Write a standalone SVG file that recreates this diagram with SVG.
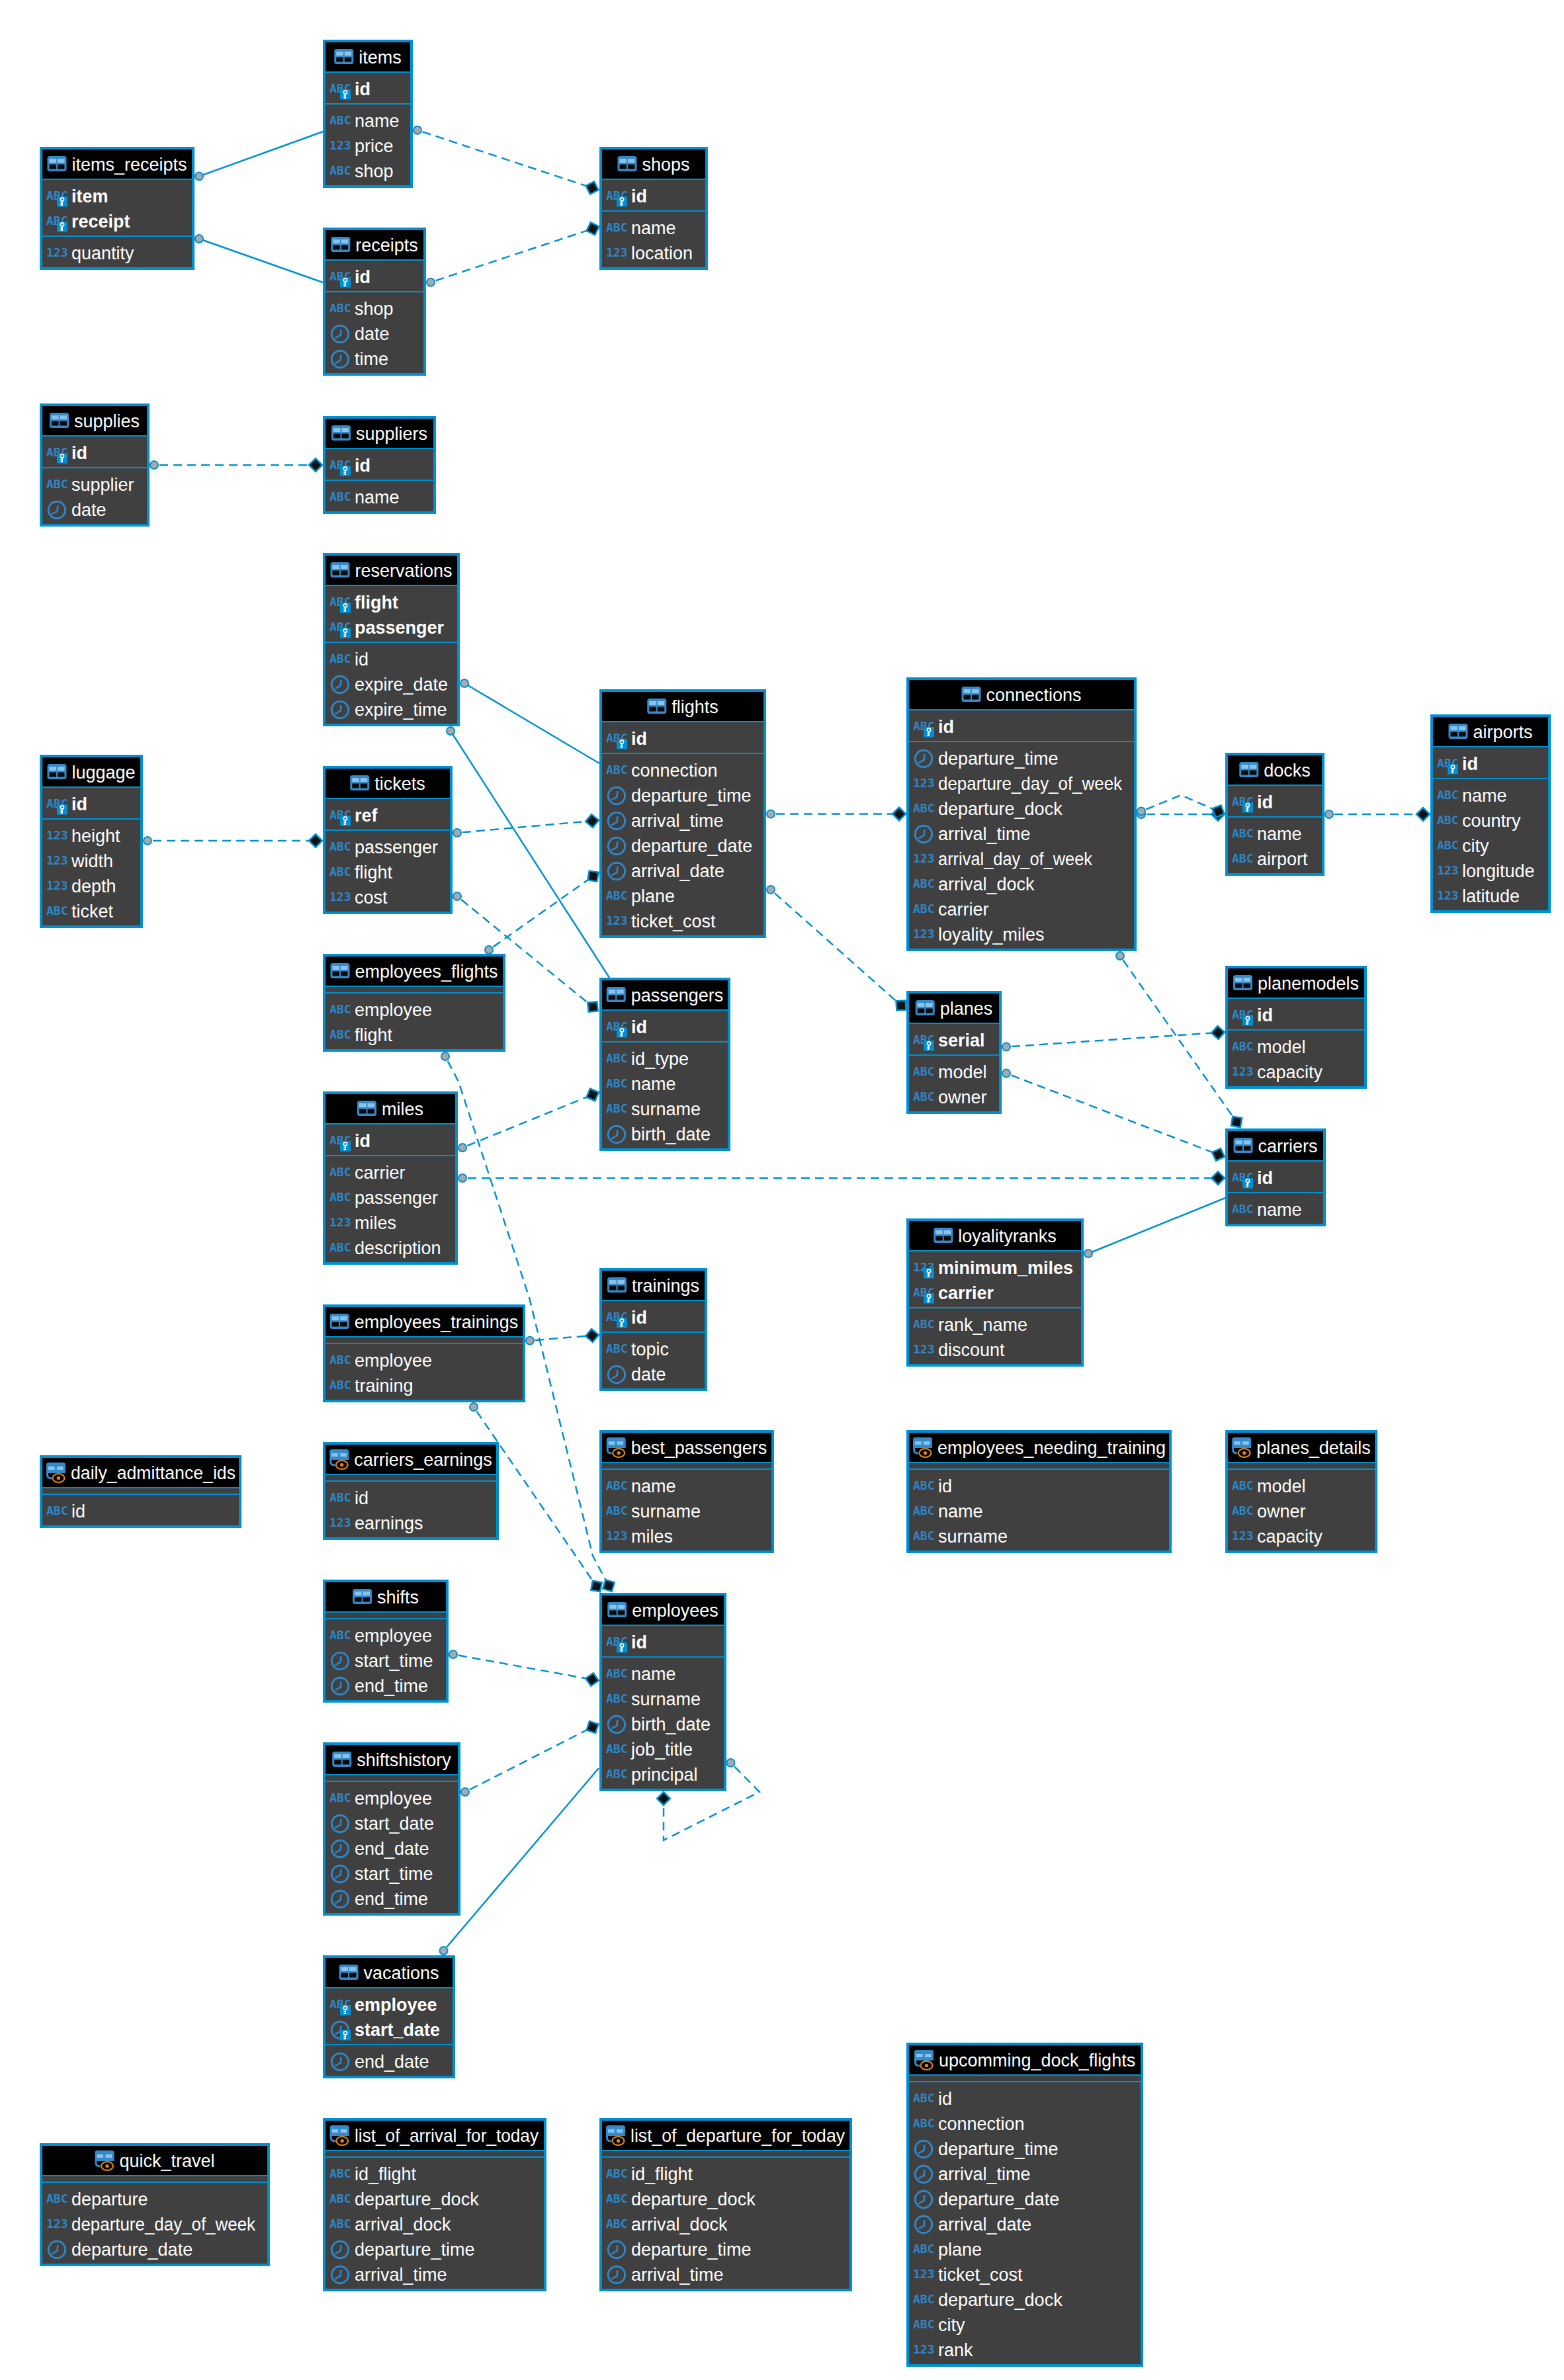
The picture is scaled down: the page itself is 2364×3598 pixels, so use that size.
<svg xmlns="http://www.w3.org/2000/svg" width="2364" height="3598" viewBox="0 0 2364 3598">
<style>
text{font-family:"Liberation Sans",Arial,sans-serif;font-size:27px;fill:#fff}
.t{font-size:27px}
.k{font-weight:700}
.a{font-family:"DejaVu Sans Mono",monospace;font-weight:700;font-size:18px;fill:#2e86c8}
.b{fill:#404040;stroke:#0090d2;stroke-width:4}
.h{fill:#000}
.l{fill:#0090d2}
.c{fill:none;stroke:#0090d2;stroke-width:2.5}
.d{stroke-dasharray:13 8;stroke-dashoffset:13;marker-start:url(#one);marker-end:url(#many)}
.s{marker-start:url(#one)}
</style>
<defs>
<marker id="one" markerUnits="userSpaceOnUse" viewBox="-14 -14 28 28" markerWidth="28" markerHeight="28" refX="0" refY="0"><circle r="6" fill="#a9a9a9" stroke="#0090d2" stroke-width="2"/></marker>
<marker id="many" markerUnits="userSpaceOnUse" viewBox="-14 -14 28 28" markerWidth="28" markerHeight="28" refX="0" refY="0" orient="auto"><path d="M-10,0L0,-10L10,0L0,10Z" fill="#111" stroke="#0090d2" stroke-width="2.5"/></marker>
<g id="tbl"><rect width="29" height="23" rx="3.5" fill="#348aca"/><rect x="3" y="4" width="10.5" height="6" fill="#8ac3ea"/><rect x="15.5" y="4" width="10.5" height="6" fill="#8ac3ea"/><rect x="3" y="12.5" width="10.5" height="7" fill="#0a0a0a"/><rect x="15.5" y="12.5" width="10.5" height="7" fill="#0a0a0a"/></g>
<g id="vw"><path d="M0,3.5Q0,0 3.5,0H25.5Q29,0 29,3.5V16H0Z" fill="#348aca"/><path d="M1.5,14V19Q1.5,24 8,24" fill="none" stroke="#348aca" stroke-width="3"/><rect x="3" y="6" width="9.5" height="5" fill="#8ac3ea"/><rect x="16" y="6" width="9.5" height="5" fill="#8ac3ea"/><ellipse cx="18.5" cy="23.5" rx="9" ry="6.5" fill="#000" stroke="#e8890c" stroke-width="2.2"/><circle cx="18.5" cy="23.5" r="2.6" fill="#e8890c"/></g>
<g id="clk"><circle r="12.7" fill="none" stroke="#2e86c8" stroke-width="3"/><path d="M1.3,-7L.7,1.7L-7.7,6.3" fill="none" stroke="#2e86c8" stroke-width="2.5"/></g>
<g id="key"><rect width="16" height="15.5" fill="#0090d2"/><circle cx="8" cy="4.5" r="2.6" fill="none" stroke="#fff" stroke-width="1.6"/><path d="M8,7V14M8,10H5.5M8,13H5.5" fill="none" stroke="#fff" stroke-width="1.8"/></g>
</defs>
<g id="connectors" class="c">
<path class="s" d="M301,266.5L488,199"/>
<path class="s" d="M301,361L488,427"/>
<path class="s" d="M702,1033L906,1154"/>
<path class="s" d="M681,1105L921,1478"/>
<path class="s" d="M1645,1895L1852,1811"/>
<path class="s" d="M670.5,2949L905,2673"/>
<path class="d" d="M631,196.7L895,284"/>
<path class="d" d="M651,426.7L896,345.7"/>
<path class="d" d="M233,703L477,703"/>
<path class="d" d="M223,1271L477,1271"/>
<path class="d" d="M691,1259L895,1241"/>
<path class="d" d="M691,1355L896,1522"/>
<path class="d" d="M739,1436L896.5,1324.5"/>
<path class="d" d="M673,1597L693,1635L800,1962L896,2352L920,2397"/>
<path class="d" d="M699,1735L895.7,1655"/>
<path class="d" d="M699,1781L1841,1781"/>
<path class="d" d="M1165,1230.5L1359,1230.5"/>
<path class="d" d="M1165,1345L1362,1520"/>
<path class="d" d="M1725,1231L1841,1231"/>
<path class="d" d="M1725,1226.5L1785,1202L1841.5,1226.5"/>
<path class="d" d="M1693,1445L1869,1696"/>
<path class="d" d="M1521,1582.6L1841,1561"/>
<path class="d" d="M1521,1622.6L1841.5,1745.4"/>
<path class="d" d="M2009,1231L2151,1231"/>
<path class="d" d="M801,2026.7L895,2019"/>
<path class="d" d="M716,2127L901.5,2398"/>
<path class="d" d="M685,2501L895,2539"/>
<path class="d" d="M703,2709L895.5,2611"/>
<path class="d" d="M1104.5,2665L1148,2709L1003,2782L1003,2719"/>
</g>
<g id="items" transform="translate(488,60)"><rect class="b" x="2" y="2" width="132" height="220"/><rect class="h" x="4" y="4" width="128" height="44"/><rect class="l" x="4" y="48" width="128" height="2"/><rect class="l" x="4" y="96" width="128" height="2"/><use href="#tbl" x="17.25" y="14"/><text class="t" x="54.25" y="36">items</text><text class="a" x="10" y="79.5">ABC</text><use href="#key" x="26" y="75"/><text class="k" x="48" y="84">id</text><text class="a" x="10" y="127.5">ABC</text><text x="48" y="132">name</text><text class="a" x="10" y="165.5">123</text><text x="48" y="170">price</text><text class="a" x="10" y="203.5">ABC</text><text x="48" y="208">shop</text></g>
<g id="items_receipts" transform="translate(60,222)"><rect class="b" x="2" y="2" width="230" height="182"/><rect class="h" x="4" y="4" width="226" height="44"/><rect class="l" x="4" y="48" width="226" height="2"/><rect class="l" x="4" y="134" width="226" height="2"/><use href="#tbl" x="11.5" y="14"/><text class="t" x="48.5" y="36">items_receipts</text><text class="a" x="10" y="79.5">ABC</text><use href="#key" x="26" y="75"/><text class="k" x="48" y="84">item</text><text class="a" x="10" y="117.5">ABC</text><use href="#key" x="26" y="113"/><text class="k" x="48" y="122">receipt</text><text class="a" x="10" y="165.5">123</text><text x="48" y="170">quantity</text></g>
<g id="receipts" transform="translate(488,344)"><rect class="b" x="2" y="2" width="152" height="220"/><rect class="h" x="4" y="4" width="148" height="44"/><rect class="l" x="4" y="48" width="148" height="2"/><rect class="l" x="4" y="96" width="148" height="2"/><use href="#tbl" x="12.25" y="14"/><text class="t" x="49.25" y="36">receipts</text><text class="a" x="10" y="79.5">ABC</text><use href="#key" x="26" y="75"/><text class="k" x="48" y="84">id</text><text class="a" x="10" y="127.5">ABC</text><text x="48" y="132">shop</text><use href="#clk" x="26" y="161"/><text x="48" y="170">date</text><use href="#clk" x="26" y="199"/><text x="48" y="208">time</text></g>
<g id="shops" transform="translate(906,222)"><rect class="b" x="2" y="2" width="160" height="182"/><rect class="h" x="4" y="4" width="156" height="44"/><rect class="l" x="4" y="48" width="156" height="2"/><rect class="l" x="4" y="96" width="156" height="2"/><use href="#tbl" x="27.5" y="14"/><text class="t" x="64.5" y="36">shops</text><text class="a" x="10" y="79.5">ABC</text><use href="#key" x="26" y="75"/><text class="k" x="48" y="84">id</text><text class="a" x="10" y="127.5">ABC</text><text x="48" y="132">name</text><text class="a" x="10" y="165.5">123</text><text x="48" y="170">location</text></g>
<g id="supplies" transform="translate(60,610)"><rect class="b" x="2" y="2" width="162" height="182"/><rect class="h" x="4" y="4" width="158" height="44"/><rect class="l" x="4" y="48" width="158" height="2"/><rect class="l" x="4" y="96" width="158" height="2"/><use href="#tbl" x="15" y="14"/><text class="t" x="52" y="36">supplies</text><text class="a" x="10" y="79.5">ABC</text><use href="#key" x="26" y="75"/><text class="k" x="48" y="84">id</text><text class="a" x="10" y="127.5">ABC</text><text x="48" y="132">supplier</text><use href="#clk" x="26" y="161"/><text x="48" y="170">date</text></g>
<g id="suppliers" transform="translate(488,629)"><rect class="b" x="2" y="2" width="167" height="144"/><rect class="h" x="4" y="4" width="163" height="44"/><rect class="l" x="4" y="48" width="163" height="2"/><rect class="l" x="4" y="96" width="163" height="2"/><use href="#tbl" x="13" y="14"/><text class="t" x="50" y="36">suppliers</text><text class="a" x="10" y="79.5">ABC</text><use href="#key" x="26" y="75"/><text class="k" x="48" y="84">id</text><text class="a" x="10" y="127.5">ABC</text><text x="48" y="132">name</text></g>
<g id="reservations" transform="translate(488,836)"><rect class="b" x="2" y="2" width="203" height="258"/><rect class="h" x="4" y="4" width="199" height="44"/><rect class="l" x="4" y="48" width="199" height="2"/><rect class="l" x="4" y="134" width="199" height="2"/><use href="#tbl" x="11.5" y="14"/><text class="t" x="48.5" y="36">reservations</text><text class="a" x="10" y="79.5">ABC</text><use href="#key" x="26" y="75"/><text class="k" x="48" y="84">flight</text><text class="a" x="10" y="117.5">ABC</text><use href="#key" x="26" y="113"/><text class="k" x="48" y="122">passenger</text><text class="a" x="10" y="165.5">ABC</text><text x="48" y="170">id</text><use href="#clk" x="26" y="199"/><text x="48" y="208">expire_date</text><use href="#clk" x="26" y="237"/><text x="48" y="246">expire_time</text></g>
<g id="flights" transform="translate(906,1042)"><rect class="b" x="2" y="2" width="248" height="372"/><rect class="h" x="4" y="4" width="244" height="44"/><rect class="l" x="4" y="48" width="244" height="2"/><rect class="l" x="4" y="96" width="244" height="2"/><use href="#tbl" x="72.25" y="14"/><text class="t" x="109.25" y="36">flights</text><text class="a" x="10" y="79.5">ABC</text><use href="#key" x="26" y="75"/><text class="k" x="48" y="84">id</text><text class="a" x="10" y="127.5">ABC</text><text x="48" y="132">connection</text><use href="#clk" x="26" y="161"/><text x="48" y="170">departure_time</text><use href="#clk" x="26" y="199"/><text x="48" y="208">arrival_time</text><use href="#clk" x="26" y="237"/><text x="48" y="246">departure_date</text><use href="#clk" x="26" y="275"/><text x="48" y="284">arrival_date</text><text class="a" x="10" y="317.5">ABC</text><text x="48" y="322">plane</text><text class="a" x="10" y="355.5">123</text><text x="48" y="360">ticket_cost</text></g>
<g id="connections" transform="translate(1370,1024)"><rect class="b" x="2" y="2" width="344" height="410"/><rect class="h" x="4" y="4" width="340" height="44"/><rect class="l" x="4" y="48" width="340" height="2"/><rect class="l" x="4" y="96" width="340" height="2"/><use href="#tbl" x="83.5" y="14"/><text class="t" x="120.5" y="36">connections</text><text class="a" x="10" y="79.5">ABC</text><use href="#key" x="26" y="75"/><text class="k" x="48" y="84">id</text><use href="#clk" x="26" y="123"/><text x="48" y="132">departure_time</text><text class="a" x="10" y="165.5">123</text><text x="48" y="170" textLength="278" lengthAdjust="spacingAndGlyphs">departure_day_of_week</text><text class="a" x="10" y="203.5">ABC</text><text x="48" y="208">departure_dock</text><use href="#clk" x="26" y="237"/><text x="48" y="246">arrival_time</text><text class="a" x="10" y="279.5">123</text><text x="48" y="284" textLength="233" lengthAdjust="spacingAndGlyphs">arrival_day_of_week</text><text class="a" x="10" y="317.5">ABC</text><text x="48" y="322">arrival_dock</text><text class="a" x="10" y="355.5">ABC</text><text x="48" y="360">carrier</text><text class="a" x="10" y="393.5">123</text><text x="48" y="398">loyality_miles</text></g>
<g id="docks" transform="translate(1852,1138)"><rect class="b" x="2" y="2" width="146" height="182"/><rect class="h" x="4" y="4" width="142" height="44"/><rect class="l" x="4" y="48" width="142" height="2"/><rect class="l" x="4" y="96" width="142" height="2"/><use href="#tbl" x="21.25" y="14"/><text class="t" x="58.25" y="36">docks</text><text class="a" x="10" y="79.5">ABC</text><use href="#key" x="26" y="75"/><text class="k" x="48" y="84">id</text><text class="a" x="10" y="127.5">ABC</text><text x="48" y="132">name</text><text class="a" x="10" y="165.5">ABC</text><text x="48" y="170">airport</text></g>
<g id="airports" transform="translate(2162,1080)"><rect class="b" x="2" y="2" width="178" height="296"/><rect class="h" x="4" y="4" width="174" height="44"/><rect class="l" x="4" y="48" width="174" height="2"/><rect class="l" x="4" y="96" width="174" height="2"/><use href="#tbl" x="27.5" y="14"/><text class="t" x="64.5" y="36">airports</text><text class="a" x="10" y="79.5">ABC</text><use href="#key" x="26" y="75"/><text class="k" x="48" y="84">id</text><text class="a" x="10" y="127.5">ABC</text><text x="48" y="132">name</text><text class="a" x="10" y="165.5">ABC</text><text x="48" y="170">country</text><text class="a" x="10" y="203.5">ABC</text><text x="48" y="208">city</text><text class="a" x="10" y="241.5">123</text><text x="48" y="246">longitude</text><text class="a" x="10" y="279.5">123</text><text x="48" y="284">latitude</text></g>
<g id="luggage" transform="translate(60,1141)"><rect class="b" x="2" y="2" width="152" height="258"/><rect class="h" x="4" y="4" width="148" height="44"/><rect class="l" x="4" y="48" width="148" height="2"/><rect class="l" x="4" y="96" width="148" height="2"/><use href="#tbl" x="11.5" y="14"/><text class="t" x="48.5" y="36">luggage</text><text class="a" x="10" y="79.5">ABC</text><use href="#key" x="26" y="75"/><text class="k" x="48" y="84">id</text><text class="a" x="10" y="127.5">123</text><text x="48" y="132">height</text><text class="a" x="10" y="165.5">123</text><text x="48" y="170">width</text><text class="a" x="10" y="203.5">123</text><text x="48" y="208">depth</text><text class="a" x="10" y="241.5">ABC</text><text x="48" y="246">ticket</text></g>
<g id="tickets" transform="translate(488,1158)"><rect class="b" x="2" y="2" width="192" height="220"/><rect class="h" x="4" y="4" width="188" height="44"/><rect class="l" x="4" y="48" width="188" height="2"/><rect class="l" x="4" y="96" width="188" height="2"/><use href="#tbl" x="41.25" y="14"/><text class="t" x="78.25" y="36">tickets</text><text class="a" x="10" y="79.5">ABC</text><use href="#key" x="26" y="75"/><text class="k" x="48" y="84">ref</text><text class="a" x="10" y="127.5">ABC</text><text x="48" y="132">passenger</text><text class="a" x="10" y="165.5">ABC</text><text x="48" y="170">flight</text><text class="a" x="10" y="203.5">123</text><text x="48" y="208">cost</text></g>
<g id="employees_flights" transform="translate(488,1442)"><rect class="b" x="2" y="2" width="272" height="144"/><rect class="h" x="4" y="4" width="268" height="44"/><rect class="l" x="4" y="48" width="268" height="2"/><rect class="l" x="4" y="58" width="268" height="2"/><use href="#tbl" x="11.5" y="14"/><text class="t" x="48.5" y="36">employees_flights</text><text class="a" x="10" y="89.5">ABC</text><text x="48" y="94">employee</text><text class="a" x="10" y="127.5">ABC</text><text x="48" y="132">flight</text></g>
<g id="passengers" transform="translate(906,1478)"><rect class="b" x="2" y="2" width="194" height="258"/><rect class="h" x="4" y="4" width="190" height="44"/><rect class="l" x="4" y="48" width="190" height="2"/><rect class="l" x="4" y="96" width="190" height="2"/><use href="#tbl" x="10.7" y="14"/><text class="t" x="47.7" y="36">passengers</text><text class="a" x="10" y="79.5">ABC</text><use href="#key" x="26" y="75"/><text class="k" x="48" y="84">id</text><text class="a" x="10" y="127.5">ABC</text><text x="48" y="132">id_type</text><text class="a" x="10" y="165.5">ABC</text><text x="48" y="170">name</text><text class="a" x="10" y="203.5">ABC</text><text x="48" y="208">surname</text><use href="#clk" x="26" y="237"/><text x="48" y="246">birth_date</text></g>
<g id="planes" transform="translate(1370,1498)"><rect class="b" x="2" y="2" width="140" height="182"/><rect class="h" x="4" y="4" width="136" height="44"/><rect class="l" x="4" y="48" width="136" height="2"/><rect class="l" x="4" y="96" width="136" height="2"/><use href="#tbl" x="13.75" y="14"/><text class="t" x="50.75" y="36">planes</text><text class="a" x="10" y="79.5">ABC</text><use href="#key" x="26" y="75"/><text class="k" x="48" y="84">serial</text><text class="a" x="10" y="127.5">ABC</text><text x="48" y="132">model</text><text class="a" x="10" y="165.5">ABC</text><text x="48" y="170">owner</text></g>
<g id="planemodels" transform="translate(1852,1460)"><rect class="b" x="2" y="2" width="210" height="182"/><rect class="h" x="4" y="4" width="206" height="44"/><rect class="l" x="4" y="48" width="206" height="2"/><rect class="l" x="4" y="96" width="206" height="2"/><use href="#tbl" x="12" y="14"/><text class="t" x="49" y="36">planemodels</text><text class="a" x="10" y="79.5">ABC</text><use href="#key" x="26" y="75"/><text class="k" x="48" y="84">id</text><text class="a" x="10" y="127.5">ABC</text><text x="48" y="132">model</text><text class="a" x="10" y="165.5">123</text><text x="48" y="170">capacity</text></g>
<g id="carriers" transform="translate(1852,1706)"><rect class="b" x="2" y="2" width="148" height="144"/><rect class="h" x="4" y="4" width="144" height="44"/><rect class="l" x="4" y="48" width="144" height="2"/><rect class="l" x="4" y="96" width="144" height="2"/><use href="#tbl" x="12.5" y="14"/><text class="t" x="49.5" y="36">carriers</text><text class="a" x="10" y="79.5">ABC</text><use href="#key" x="26" y="75"/><text class="k" x="48" y="84">id</text><text class="a" x="10" y="127.5">ABC</text><text x="48" y="132">name</text></g>
<g id="loyalityranks" transform="translate(1370,1842)"><rect class="b" x="2" y="2" width="264" height="220"/><rect class="h" x="4" y="4" width="260" height="44"/><rect class="l" x="4" y="48" width="260" height="2"/><rect class="l" x="4" y="134" width="260" height="2"/><use href="#tbl" x="41.25" y="14"/><text class="t" x="78.25" y="36">loyalityranks</text><text class="a" x="10" y="79.5">123</text><use href="#key" x="26" y="75"/><text class="k" x="48" y="84">minimum_miles</text><text class="a" x="10" y="117.5">ABC</text><use href="#key" x="26" y="113"/><text class="k" x="48" y="122">carrier</text><text class="a" x="10" y="165.5">ABC</text><text x="48" y="170">rank_name</text><text class="a" x="10" y="203.5">123</text><text x="48" y="208">discount</text></g>
<g id="miles" transform="translate(488,1650)"><rect class="b" x="2" y="2" width="200" height="258"/><rect class="h" x="4" y="4" width="196" height="44"/><rect class="l" x="4" y="48" width="196" height="2"/><rect class="l" x="4" y="96" width="196" height="2"/><use href="#tbl" x="52" y="14"/><text class="t" x="89" y="36">miles</text><text class="a" x="10" y="79.5">ABC</text><use href="#key" x="26" y="75"/><text class="k" x="48" y="84">id</text><text class="a" x="10" y="127.5">ABC</text><text x="48" y="132">carrier</text><text class="a" x="10" y="165.5">ABC</text><text x="48" y="170">passenger</text><text class="a" x="10" y="203.5">123</text><text x="48" y="208">miles</text><text class="a" x="10" y="241.5">ABC</text><text x="48" y="246">description</text></g>
<g id="trainings" transform="translate(906,1917)"><rect class="b" x="2" y="2" width="159" height="182"/><rect class="h" x="4" y="4" width="155" height="44"/><rect class="l" x="4" y="48" width="155" height="2"/><rect class="l" x="4" y="96" width="155" height="2"/><use href="#tbl" x="12" y="14"/><text class="t" x="49" y="36">trainings</text><text class="a" x="10" y="79.5">ABC</text><use href="#key" x="26" y="75"/><text class="k" x="48" y="84">id</text><text class="a" x="10" y="127.5">ABC</text><text x="48" y="132">topic</text><use href="#clk" x="26" y="161"/><text x="48" y="170">date</text></g>
<g id="employees_trainings" transform="translate(488,1972)"><rect class="b" x="2" y="2" width="302" height="144"/><rect class="h" x="4" y="4" width="298" height="44"/><rect class="l" x="4" y="48" width="298" height="2"/><rect class="l" x="4" y="58" width="298" height="2"/><use href="#tbl" x="10.7" y="14"/><text class="t" x="47.7" y="36">employees_trainings</text><text class="a" x="10" y="89.5">ABC</text><text x="48" y="94">employee</text><text class="a" x="10" y="127.5">ABC</text><text x="48" y="132">training</text></g>
<g id="daily_admittance_ids" transform="translate(60,2200)"><rect class="b" x="2" y="2" width="301" height="106"/><rect class="h" x="4" y="4" width="297" height="44"/><rect class="l" x="4" y="48" width="297" height="2"/><rect class="l" x="4" y="58" width="297" height="2"/><use href="#vw" x="10" y="11"/><text class="t" x="47" y="36" textLength="249" lengthAdjust="spacingAndGlyphs">daily_admittance_ids</text><text class="a" x="10" y="89.5">ABC</text><text x="48" y="94">id</text></g>
<g id="carriers_earnings" transform="translate(488,2180)"><rect class="b" x="2" y="2" width="262" height="144"/><rect class="h" x="4" y="4" width="258" height="44"/><rect class="l" x="4" y="48" width="258" height="2"/><rect class="l" x="4" y="58" width="258" height="2"/><use href="#vw" x="10.25" y="11"/><text class="t" x="47.25" y="36">carriers_earnings</text><text class="a" x="10" y="89.5">ABC</text><text x="48" y="94">id</text><text class="a" x="10" y="127.5">123</text><text x="48" y="132">earnings</text></g>
<g id="best_passengers" transform="translate(906,2162)"><rect class="b" x="2" y="2" width="260" height="182"/><rect class="h" x="4" y="4" width="256" height="44"/><rect class="l" x="4" y="48" width="256" height="2"/><rect class="l" x="4" y="58" width="256" height="2"/><use href="#vw" x="10.7" y="11"/><text class="t" x="47.7" y="36">best_passengers</text><text class="a" x="10" y="89.5">ABC</text><text x="48" y="94">name</text><text class="a" x="10" y="127.5">ABC</text><text x="48" y="132">surname</text><text class="a" x="10" y="165.5">123</text><text x="48" y="170">miles</text></g>
<g id="employees_needing_training" transform="translate(1370,2162)"><rect class="b" x="2" y="2" width="397" height="182"/><rect class="h" x="4" y="4" width="393" height="44"/><rect class="l" x="4" y="48" width="393" height="2"/><rect class="l" x="4" y="58" width="393" height="2"/><use href="#vw" x="10" y="11"/><text class="t" x="47" y="36" textLength="345" lengthAdjust="spacingAndGlyphs">employees_needing_training</text><text class="a" x="10" y="89.5">ABC</text><text x="48" y="94">id</text><text class="a" x="10" y="127.5">ABC</text><text x="48" y="132">name</text><text class="a" x="10" y="165.5">ABC</text><text x="48" y="170">surname</text></g>
<g id="planes_details" transform="translate(1852,2162)"><rect class="b" x="2" y="2" width="226" height="182"/><rect class="h" x="4" y="4" width="222" height="44"/><rect class="l" x="4" y="48" width="222" height="2"/><rect class="l" x="4" y="58" width="222" height="2"/><use href="#vw" x="10.2" y="11"/><text class="t" x="47.2" y="36">planes_details</text><text class="a" x="10" y="89.5">ABC</text><text x="48" y="94">model</text><text class="a" x="10" y="127.5">ABC</text><text x="48" y="132">owner</text><text class="a" x="10" y="165.5">123</text><text x="48" y="170">capacity</text></g>
<g id="shifts" transform="translate(488,2388)"><rect class="b" x="2" y="2" width="186" height="182"/><rect class="h" x="4" y="4" width="182" height="44"/><rect class="l" x="4" y="48" width="182" height="2"/><rect class="l" x="4" y="58" width="182" height="2"/><use href="#tbl" x="45" y="14"/><text class="t" x="82" y="36">shifts</text><text class="a" x="10" y="89.5">ABC</text><text x="48" y="94">employee</text><use href="#clk" x="26" y="123"/><text x="48" y="132">start_time</text><use href="#clk" x="26" y="161"/><text x="48" y="170">end_time</text></g>
<g id="employees" transform="translate(906,2408)"><rect class="b" x="2" y="2" width="188" height="296"/><rect class="h" x="4" y="4" width="184" height="44"/><rect class="l" x="4" y="48" width="184" height="2"/><rect class="l" x="4" y="96" width="184" height="2"/><use href="#tbl" x="12.25" y="14"/><text class="t" x="49.25" y="36">employees</text><text class="a" x="10" y="79.5">ABC</text><use href="#key" x="26" y="75"/><text class="k" x="48" y="84">id</text><text class="a" x="10" y="127.5">ABC</text><text x="48" y="132">name</text><text class="a" x="10" y="165.5">ABC</text><text x="48" y="170">surname</text><use href="#clk" x="26" y="199"/><text x="48" y="208">birth_date</text><text class="a" x="10" y="241.5">ABC</text><text x="48" y="246">job_title</text><text class="a" x="10" y="279.5">ABC</text><text x="48" y="284">principal</text></g>
<g id="shiftshistory" transform="translate(488,2634)"><rect class="b" x="2" y="2" width="204" height="258"/><rect class="h" x="4" y="4" width="200" height="44"/><rect class="l" x="4" y="48" width="200" height="2"/><rect class="l" x="4" y="58" width="200" height="2"/><use href="#tbl" x="14.25" y="14"/><text class="t" x="51.25" y="36">shiftshistory</text><text class="a" x="10" y="89.5">ABC</text><text x="48" y="94">employee</text><use href="#clk" x="26" y="123"/><text x="48" y="132">start_date</text><use href="#clk" x="26" y="161"/><text x="48" y="170">end_date</text><use href="#clk" x="26" y="199"/><text x="48" y="208">start_time</text><use href="#clk" x="26" y="237"/><text x="48" y="246">end_time</text></g>
<g id="vacations" transform="translate(488,2956)"><rect class="b" x="2" y="2" width="196" height="182"/><rect class="h" x="4" y="4" width="192" height="44"/><rect class="l" x="4" y="48" width="192" height="2"/><rect class="l" x="4" y="134" width="192" height="2"/><use href="#tbl" x="24.5" y="14"/><text class="t" x="61.5" y="36">vacations</text><text class="a" x="10" y="79.5">ABC</text><use href="#key" x="26" y="75"/><text class="k" x="48" y="84">employee</text><use href="#clk" x="26" y="113"/><use href="#key" x="26" y="113"/><text class="k" x="48" y="122">start_date</text><use href="#clk" x="26" y="161"/><text x="48" y="170">end_date</text></g>
<g id="quick_travel" transform="translate(60,3240)"><rect class="b" x="2" y="2" width="344" height="182"/><rect class="h" x="4" y="4" width="340" height="44"/><rect class="l" x="4" y="48" width="340" height="2"/><rect class="l" x="4" y="58" width="340" height="2"/><use href="#vw" x="83.5" y="11"/><text class="t" x="120.5" y="36">quick_travel</text><text class="a" x="10" y="89.5">ABC</text><text x="48" y="94">departure</text><text class="a" x="10" y="127.5">123</text><text x="48" y="132" textLength="278" lengthAdjust="spacingAndGlyphs">departure_day_of_week</text><use href="#clk" x="26" y="161"/><text x="48" y="170">departure_date</text></g>
<g id="list_of_arrival_for_today" transform="translate(488,3202)"><rect class="b" x="2" y="2" width="334" height="258"/><rect class="h" x="4" y="4" width="330" height="44"/><rect class="l" x="4" y="48" width="330" height="2"/><rect class="l" x="4" y="58" width="330" height="2"/><use href="#vw" x="10.7" y="11"/><text class="t" x="48" y="36" textLength="278" lengthAdjust="spacingAndGlyphs">list_of_arrival_for_today</text><text class="a" x="10" y="89.5">ABC</text><text x="48" y="94">id_flight</text><text class="a" x="10" y="127.5">ABC</text><text x="48" y="132">departure_dock</text><text class="a" x="10" y="165.5">ABC</text><text x="48" y="170">arrival_dock</text><use href="#clk" x="26" y="199"/><text x="48" y="208">departure_time</text><use href="#clk" x="26" y="237"/><text x="48" y="246">arrival_time</text></g>
<g id="list_of_departure_for_today" transform="translate(906,3202)"><rect class="b" x="2" y="2" width="378" height="258"/><rect class="h" x="4" y="4" width="374" height="44"/><rect class="l" x="4" y="48" width="374" height="2"/><rect class="l" x="4" y="58" width="374" height="2"/><use href="#vw" x="10" y="11"/><text class="t" x="47" y="36" textLength="324" lengthAdjust="spacingAndGlyphs">list_of_departure_for_today</text><text class="a" x="10" y="89.5">ABC</text><text x="48" y="94">id_flight</text><text class="a" x="10" y="127.5">ABC</text><text x="48" y="132">departure_dock</text><text class="a" x="10" y="165.5">ABC</text><text x="48" y="170">arrival_dock</text><use href="#clk" x="26" y="199"/><text x="48" y="208">departure_time</text><use href="#clk" x="26" y="237"/><text x="48" y="246">arrival_time</text></g>
<g id="upcomming_dock_flights" transform="translate(1370,3088)"><rect class="b" x="2" y="2" width="354" height="486"/><rect class="h" x="4" y="4" width="350" height="44"/><rect class="l" x="4" y="48" width="350" height="2"/><rect class="l" x="4" y="58" width="350" height="2"/><use href="#vw" x="12" y="11"/><text class="t" x="49" y="36">upcomming_dock_flights</text><text class="a" x="10" y="89.5">ABC</text><text x="48" y="94">id</text><text class="a" x="10" y="127.5">ABC</text><text x="48" y="132">connection</text><use href="#clk" x="26" y="161"/><text x="48" y="170">departure_time</text><use href="#clk" x="26" y="199"/><text x="48" y="208">arrival_time</text><use href="#clk" x="26" y="237"/><text x="48" y="246">departure_date</text><use href="#clk" x="26" y="275"/><text x="48" y="284">arrival_date</text><text class="a" x="10" y="317.5">ABC</text><text x="48" y="322">plane</text><text class="a" x="10" y="355.5">123</text><text x="48" y="360">ticket_cost</text><text class="a" x="10" y="393.5">ABC</text><text x="48" y="398">departure_dock</text><text class="a" x="10" y="431.5">ABC</text><text x="48" y="436">city</text><text class="a" x="10" y="469.5">123</text><text x="48" y="474">rank</text></g>
</svg>
